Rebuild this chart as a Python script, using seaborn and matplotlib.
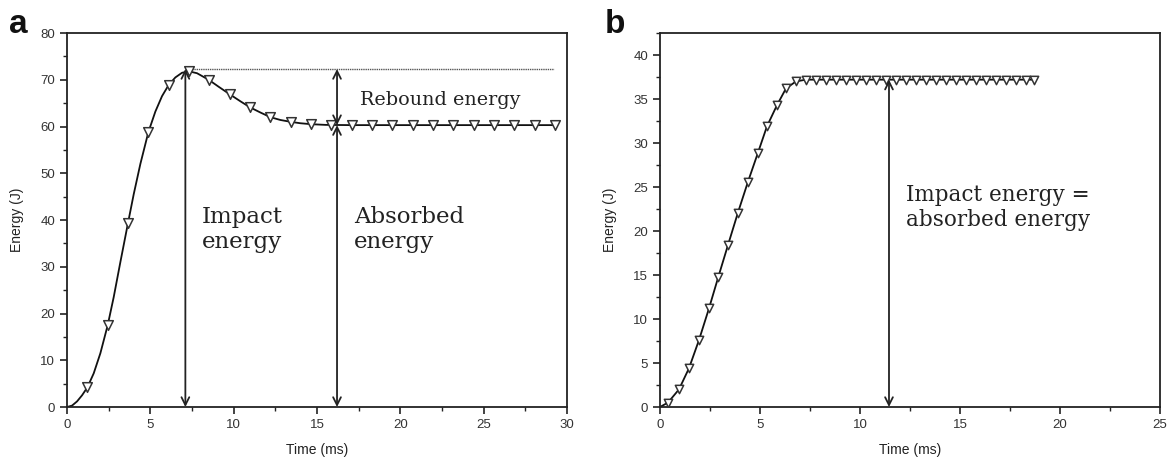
import matplotlib
matplotlib.use("Agg")
import matplotlib.pyplot as plt
import pandas as pd
import seaborn as sns

sns.set_style("ticks")
plt.rcParams["font.family"] = ["Liberation Sans", "DejaVu Sans"]

# panel a: energy curve (ms, J)
a_curve_t = [0.0, 0.3, 0.6, 0.9, 1.22, 1.6, 2.0, 2.44, 2.8, 3.2, 3.66, 4.0, 4.4,
             4.88, 5.3, 5.7, 6.1, 6.5, 6.9, 7.32, 7.8, 8.2, 8.54, 9.1, 9.76,
             10.4, 10.98, 11.6, 12.2, 12.8, 13.42, 14.0, 14.64, 15.5, 17.0,
             20.0, 25.0, 29.3]
a_curve_e = [0.0, 0.3, 1.2, 2.5, 4.2, 7.2, 11.5, 17.5, 23.5, 31.0, 39.4, 45.5, 52.0,
             58.8, 63.2, 66.5, 68.9, 70.5, 71.5, 71.8, 71.4, 70.6, 69.9, 68.5, 66.9,
             65.4, 64.1, 63.0, 62.0, 61.4, 61.0, 60.7, 60.5, 60.35, 60.3,
             60.3, 60.3, 60.3]
a_mark_t = [1.22, 2.44, 3.66, 4.88, 6.1, 7.32, 8.54, 9.76, 10.98, 12.2, 13.42,
            14.64, 15.86, 17.08, 18.3, 19.52, 20.74, 21.96, 23.18, 24.4, 25.62,
            26.84, 28.06, 29.28]
a_mark_e = [4.2, 17.5, 39.4, 58.8, 68.9, 71.8, 69.9, 66.9, 64.1, 62.0, 61.0,
            60.5, 60.3, 60.3, 60.3, 60.3, 60.3, 60.3, 60.3, 60.3, 60.3,
            60.3, 60.3, 60.3]
a_peak = 72.3
a_final = 60.3
a_impact_t = 7.1
a_absorb_t = 16.2

# panel b
b_curve_t = [0.0, 0.4, 0.95, 1.45, 1.95, 2.45, 2.92, 3.4, 3.9, 4.4, 4.9, 5.35,
             5.85, 6.3, 6.8, 7.3, 10.0, 15.0, 18.7]
b_curve_e = [0.0, 0.5, 2.0, 4.4, 7.6, 11.2, 14.8, 18.4, 22.1, 25.6, 28.9, 31.9,
             34.3, 36.2, 37.0, 37.2, 37.2, 37.2, 37.2]
b_mark_t = [0.4, 0.95, 1.45, 1.95, 2.45, 2.92, 3.4, 3.9, 4.4, 4.9, 5.35, 5.85,
            6.3, 6.8, 7.3, 7.8, 8.3, 8.8, 9.3, 9.8, 10.3, 10.8, 11.3, 11.8,
            12.3, 12.8, 13.3, 13.8, 14.3, 14.8, 15.3, 15.8, 16.3, 16.8, 17.3,
            17.8, 18.3, 18.7]
b_mark_e = [0.5, 2.0, 4.4, 7.6, 11.2, 14.8, 18.4, 22.1, 25.6, 28.9, 31.9, 34.3,
            36.2, 37.0, 37.2, 37.2, 37.2, 37.2, 37.2, 37.2, 37.2, 37.2, 37.2, 37.2,
            37.2, 37.2, 37.2, 37.2, 37.2, 37.2, 37.2, 37.2, 37.2, 37.2, 37.2,
            37.2, 37.2, 37.2]
b_impact_t = 11.45
b_final = 37.2

SERIF = ["DejaVu Serif"]
ARROW = dict(arrowstyle="<->", color="#222222", lw=1.3, shrinkA=0, shrinkB=0,
             mutation_scale=14)


def draw_curve(ax, ct, ce, mt, me, msize):
    sns.lineplot(x=ct, y=ce, ax=ax, color="#111111", lw=1.3, sort=False)
    sns.scatterplot(x=mt, y=me, ax=ax, marker="v", s=msize, facecolor="white",
                    edgecolor="#333333", linewidth=1.1, zorder=3)


def style_axis(ax, xlim, ylim, xmaj, xmin, ymaj, ymin):
    ax.set_xlim(*xlim)
    ax.set_ylim(*ylim)
    ax.set_xticks(xmaj)
    ax.set_xticks(xmin, minor=True)
    ax.set_yticks(ymaj)
    ax.set_yticks(ymin, minor=True)
    ax.tick_params(which="major", direction="out", length=5, width=1.2,
                   labelsize=9.5, colors="#222222", labelcolor="#333333")
    ax.tick_params(which="minor", direction="out", length=3, width=1.0,
                   colors="#222222")
    for s in ax.spines.values():
        s.set_linewidth(1.3)
        s.set_color("#222222")
    ax.set_xlabel("Time (ms)", fontsize=10, color="#222222", labelpad=9)
    ax.set_ylabel("Energy (J)", fontsize=10, color="#222222", labelpad=12)


fig = plt.figure(figsize=(11.72, 4.65), dpi=100)
ax1 = fig.add_axes([0.0572, 0.1247, 0.4266, 0.8043])
ax2 = fig.add_axes([0.5631, 0.1247, 0.4267, 0.8043])

# ---- panel a
draw_curve(ax1, a_curve_t, a_curve_e, a_mark_t, a_mark_e, 48)
ax1.plot([a_impact_t, 29.2], [a_peak, a_peak], color="#555555", lw=1.0,
         ls=(0, (1, 0.6)))
ax1.annotate("", xy=(a_impact_t, 0), xytext=(a_impact_t, a_peak), arrowprops=ARROW)
ax1.annotate("", xy=(a_absorb_t, a_final), xytext=(a_absorb_t, a_peak),
             arrowprops=ARROW)
ax1.annotate("", xy=(a_absorb_t, 0), xytext=(a_absorb_t, a_final), arrowprops=ARROW)
ax1.text(17.6, 65.6, "Rebound energy", family=SERIF, fontsize=13.8,
         color="#222222", va="center", ha="left")
ax1.text(8.1, 43.0, "Impact\nenergy", family=SERIF, fontsize=16.5,
         color="#222222", va="top", ha="left", linespacing=1.15)
ax1.text(17.2, 43.0, "Absorbed\nenergy", family=SERIF, fontsize=16.5,
         color="#222222", va="top", ha="left", linespacing=1.15)
style_axis(ax1, (0, 30), (0, 80), range(0, 31, 5), [2.5 + 5 * i for i in range(6)],
           range(0, 81, 10), [5 + 10 * i for i in range(8)])

# ---- panel b
draw_curve(ax2, b_curve_t, b_curve_e, b_mark_t, b_mark_e, 36)
ax2.annotate("", xy=(b_impact_t, 0), xytext=(b_impact_t, b_final), arrowprops=ARROW)
ax2.text(12.3, 25.3, "Impact energy =\nabsorbed energy", family=SERIF,
         fontsize=15.5, color="#222222", va="top", ha="left", linespacing=1.15)
style_axis(ax2, (0, 25), (0, 42.5), range(0, 26, 5), [2.5 + 5 * i for i in range(5)],
           range(0, 41, 5), [2.5 + 5 * i for i in range(9)])

fig.text(0.008, 0.93, "a", fontsize=24, fontweight="bold", color="#111111")
fig.text(0.516, 0.93, "b", fontsize=24, fontweight="bold", color="#111111")

fig.savefig("out.png", dpi=100)
